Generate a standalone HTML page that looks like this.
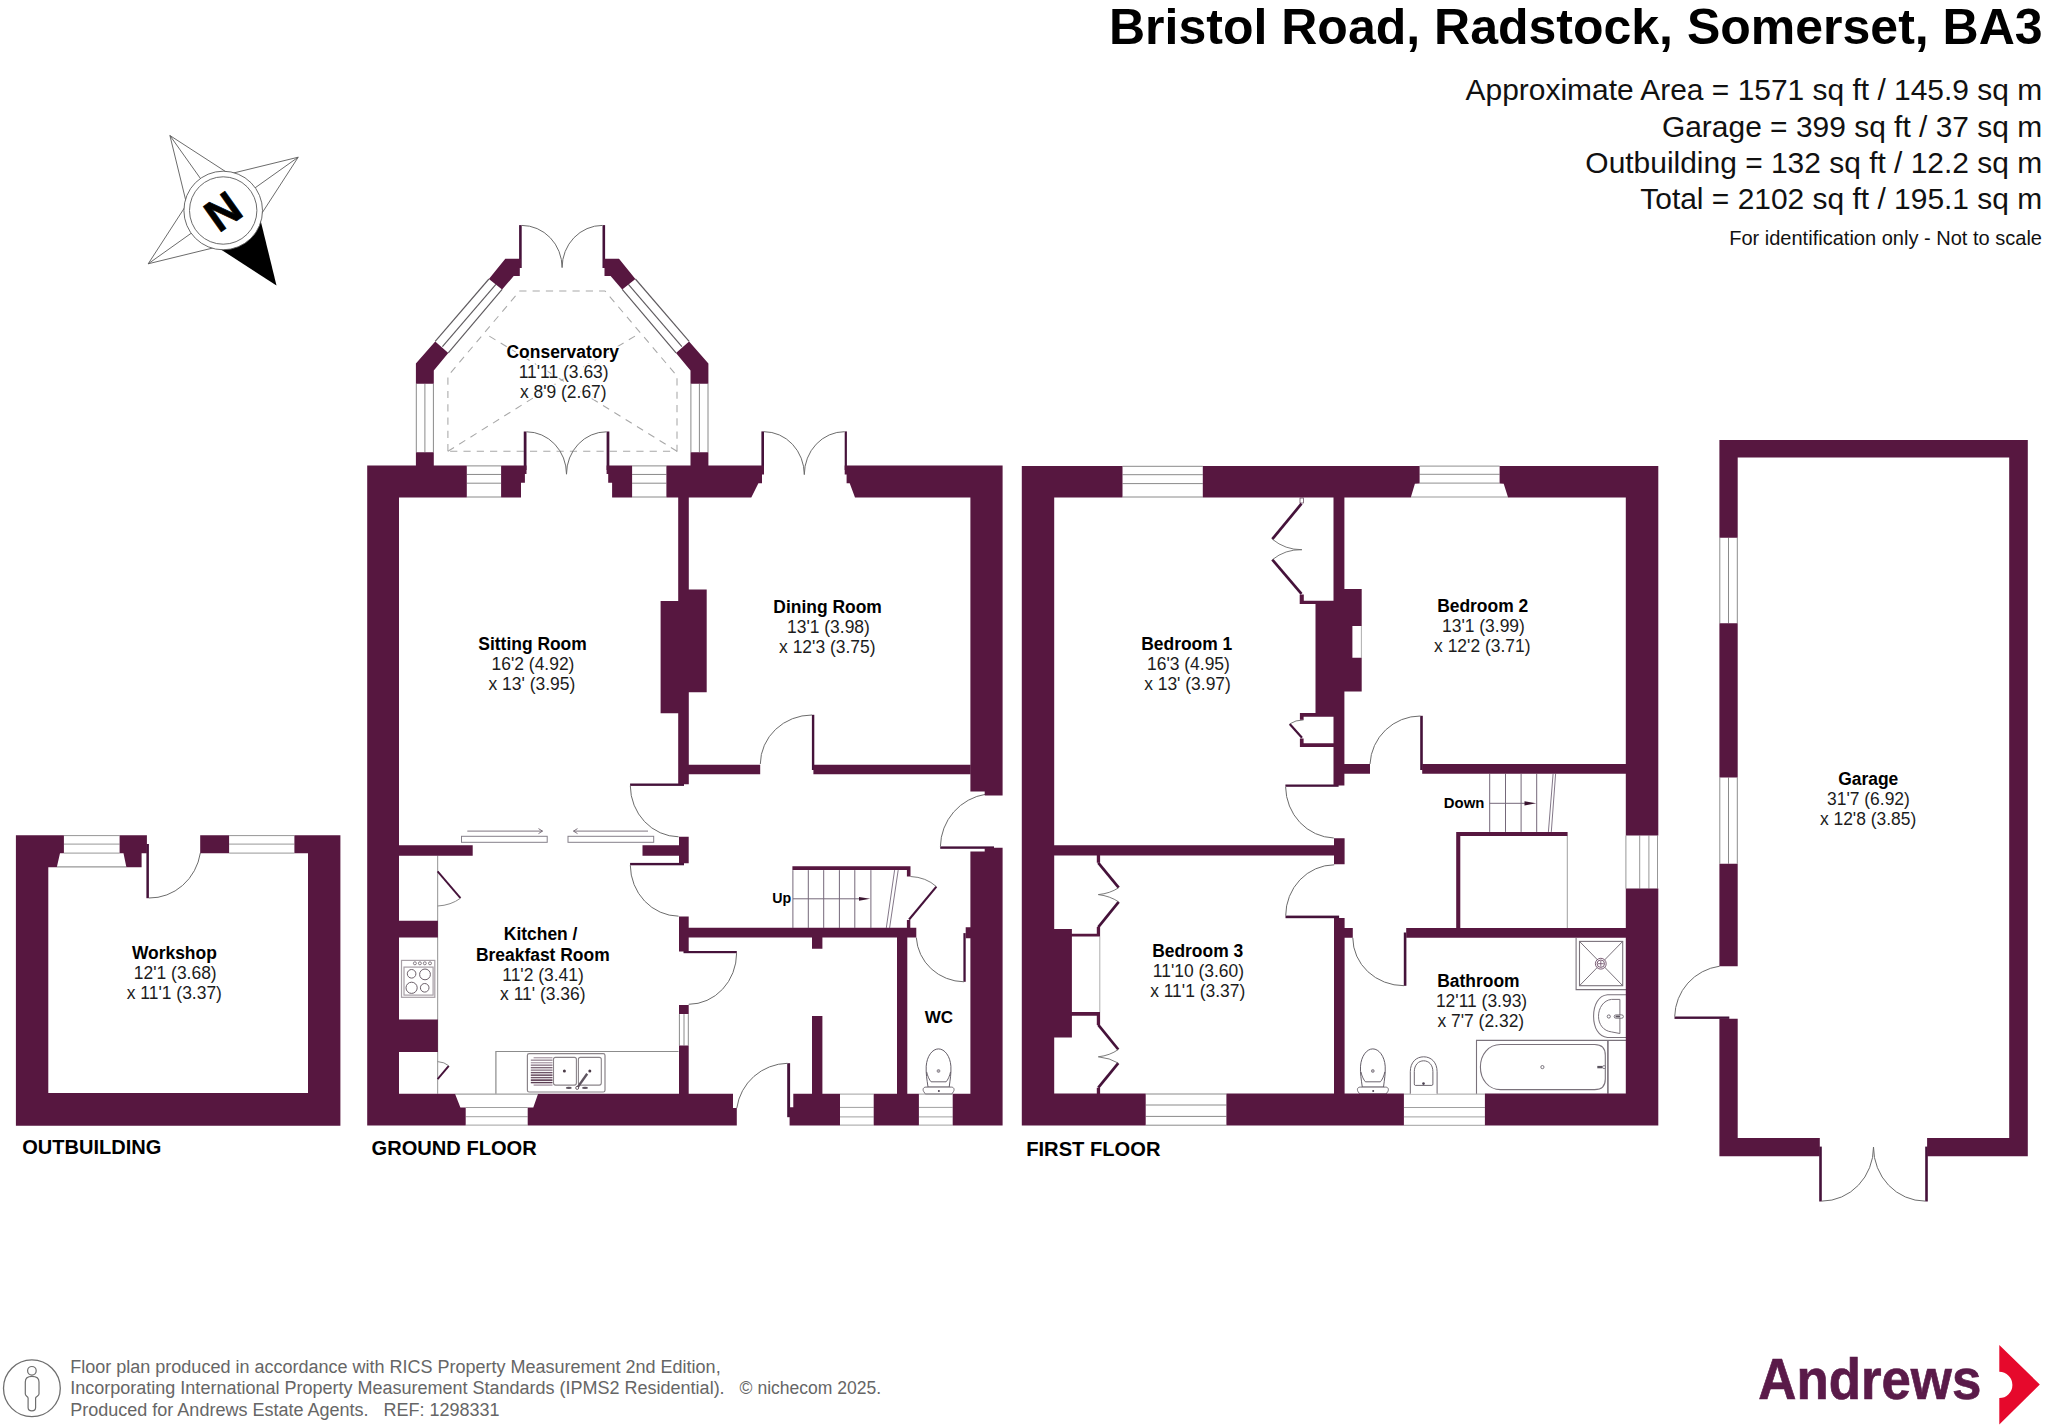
<!DOCTYPE html>
<html lang="en"><head><meta charset="utf-8"><title>Bristol Road, Radstock, Somerset, BA3 - Floor plan</title>
<style>
html,body{margin:0;padding:0;background:#fff}
body{width:2048px;height:1427px;overflow:hidden}
svg{display:block;font-family:"Liberation Sans",Arial,Helvetica,sans-serif}
</style></head><body>
<svg width="2048" height="1427" viewBox="0 0 2048 1427">
<rect width="2048" height="1427" fill="#fff"/>
<text x="2042.6" y="43.7" font-size="50" font-weight="bold" text-anchor="end" fill="#000">Bristol Road, Radstock, Somerset, BA3</text>
<text x="2042.2" y="100.1" font-size="29.94" text-anchor="end" fill="#111">Approximate Area = 1571 sq ft / 145.9 sq m</text>
<text x="2042.2" y="136.5" font-size="29.94" text-anchor="end" fill="#111">Garage = 399 sq ft / 37 sq m</text>
<text x="2042.2" y="172.9" font-size="29.94" text-anchor="end" fill="#111">Outbuilding = 132 sq ft / 12.2 sq m</text>
<text x="2042.2" y="209.3" font-size="29.94" text-anchor="end" fill="#111">Total = 2102 sq ft / 195.1 sq m</text>
<text x="2042" y="244.6" font-size="20.05" text-anchor="end" fill="#111">For identification only - Not to scale</text>
<polygon points="276.49,285.49 217.03,246.98 223.2,210.5 259.68,216.67" fill="#000"/>
<path d="M217.03 246.98L148.21 263.79L186.72 204.33M148.21 263.79L223.2 210.5" stroke="#5a5a5a" stroke-width="0.9" fill="none"/>
<path d="M186.72 204.33L169.91 135.51L229.37 174.02M169.91 135.51L223.2 210.5" stroke="#5a5a5a" stroke-width="0.9" fill="none"/>
<path d="M229.37 174.02L298.19 157.21L259.68 216.67M298.19 157.21L223.2 210.5" stroke="#5a5a5a" stroke-width="0.9" fill="none"/>
<circle cx="223.2" cy="210.5" r="39.3" fill="#fff" stroke="#5a5a5a" stroke-width="0.9"/>
<circle cx="223.2" cy="210.5" r="33.7" fill="#fff" stroke="#5a5a5a" stroke-width="0.9"/>
<text x="0" y="0" font-size="45" font-weight="bold" text-anchor="middle" fill="#000" stroke="#000" stroke-width="0.7" transform="translate(223.2 210.5) rotate(-35.4) translate(-0.8 16.1)">N</text>
<rect x="63.9" y="835.6" width="55.7" height="17.5" fill="#fff"/>
<line x1="63.9" y1="835.6" x2="119.6" y2="835.6" stroke="#979797" stroke-width="1"/>
<line x1="63.9" y1="844.1" x2="119.6" y2="844.1" stroke="#979797" stroke-width="1"/>
<line x1="63.9" y1="853.1" x2="119.6" y2="853.1" stroke="#979797" stroke-width="1"/>
<line x1="56.8" y1="866.9" x2="126.4" y2="866.9" stroke="#979797" stroke-width="1.1"/>
<rect x="229.1" y="835.6" width="65.3" height="17.5" fill="#fff"/>
<line x1="229.1" y1="835.6" x2="294.4" y2="835.6" stroke="#979797" stroke-width="1"/>
<line x1="229.1" y1="844.1" x2="294.4" y2="844.1" stroke="#979797" stroke-width="1"/>
<line x1="229.1" y1="853.1" x2="294.4" y2="853.1" stroke="#979797" stroke-width="1"/>
<rect x="146.4" y="844" width="2.5" height="54.2" fill="#45123a"/>
<path d="M148.9 898A51.5 54 0 0 0 200.4 852.8" stroke="#6c6c6c" stroke-width="1" fill="none"/>
<text x="22.2" y="1154" font-size="20.05" font-weight="bold" text-anchor="start" fill="#000">OUTBUILDING</text>
<path d="M447.9 451.3L447.9 376L519.8 290.9L604.9 290.9L677 376L677 451.3Z" stroke="#a8a8a8" stroke-width="1.05" fill="none" stroke-dasharray="7.2 6.1"/>
<path d="M447.9 451.3L561.8 380M677 451.3L561.8 380M489.3 336.1L561.8 380M635 336.1L561.8 380" stroke="#a8a8a8" stroke-width="1.05" fill="none" stroke-dasharray="7.2 6.1"/>
<line x1="435.2" y1="341.4" x2="488.9" y2="279" stroke="#5e5a5e" stroke-width="1.15"/>
<line x1="442.4" y1="346.6" x2="495.9" y2="284.3" stroke="#5e5a5e" stroke-width="1.15"/>
<line x1="448.3" y1="352.9" x2="502.1" y2="289.4" stroke="#5e5a5e" stroke-width="1.15"/>
<line x1="689.1" y1="341.4" x2="635.4" y2="279" stroke="#5e5a5e" stroke-width="1.15"/>
<line x1="681.9" y1="346.6" x2="628.4" y2="284.3" stroke="#5e5a5e" stroke-width="1.15"/>
<line x1="676" y1="352.9" x2="622.2" y2="289.4" stroke="#5e5a5e" stroke-width="1.15"/>
<rect x="416.3" y="383.8" width="17.1" height="68.4" fill="#fff"/>
<line x1="416.3" y1="383.8" x2="416.3" y2="452.2" stroke="#8a8a8a" stroke-width="1"/>
<line x1="424.9" y1="383.8" x2="424.9" y2="452.2" stroke="#8a8a8a" stroke-width="1"/>
<line x1="433.4" y1="383.8" x2="433.4" y2="452.2" stroke="#8a8a8a" stroke-width="1"/>
<rect x="690.9" y="383.8" width="17.1" height="68.4" fill="#fff"/>
<line x1="690.9" y1="383.8" x2="690.9" y2="452.2" stroke="#8a8a8a" stroke-width="1"/>
<line x1="699.4" y1="383.8" x2="699.4" y2="452.2" stroke="#8a8a8a" stroke-width="1"/>
<line x1="708" y1="383.8" x2="708" y2="452.2" stroke="#8a8a8a" stroke-width="1"/>
<rect x="519.1" y="225.1" width="2.6" height="42.9" fill="#45123a"/>
<rect x="602.5" y="225.1" width="2.6" height="42.9" fill="#45123a"/>
<path d="M521.7 225.4A40.4 42.2 0 0 1 562.1 267.6" stroke="#6c6c6c" stroke-width="1" fill="none"/>
<path d="M602.5 225.4A40.4 42.2 0 0 0 562.1 267.6" stroke="#6c6c6c" stroke-width="1" fill="none"/>
<rect x="466.8" y="465.9" width="34.3" height="31.1" fill="#fff"/>
<line x1="466.8" y1="465.9" x2="501.1" y2="465.9" stroke="#8a8a8a" stroke-width="1"/>
<line x1="466.8" y1="474.45" x2="501.1" y2="474.45" stroke="#8a8a8a" stroke-width="1"/>
<line x1="466.8" y1="483.2" x2="501.1" y2="483.2" stroke="#8a8a8a" stroke-width="1"/>
<line x1="466.8" y1="497" x2="501.1" y2="497" stroke="#8a8a8a" stroke-width="1"/>
<rect x="632.1" y="465.9" width="34.3" height="31.1" fill="#fff"/>
<line x1="632.1" y1="465.9" x2="666.4" y2="465.9" stroke="#8a8a8a" stroke-width="1"/>
<line x1="632.1" y1="474.45" x2="666.4" y2="474.45" stroke="#8a8a8a" stroke-width="1"/>
<line x1="632.1" y1="483.2" x2="666.4" y2="483.2" stroke="#8a8a8a" stroke-width="1"/>
<line x1="632.1" y1="497" x2="666.4" y2="497" stroke="#8a8a8a" stroke-width="1"/>
<rect x="523.75" y="431.5" width="2.75" height="38.5" fill="#45123a"/>
<rect x="606.6" y="431.5" width="2.75" height="38.5" fill="#45123a"/>
<path d="M526.5 431.8A40 42.4 0 0 1 566.5 474.2" stroke="#6c6c6c" stroke-width="1" fill="none"/>
<path d="M606.6 431.8A40 42.4 0 0 0 566.5 474.2" stroke="#6c6c6c" stroke-width="1" fill="none"/>
<rect x="761.4" y="431.4" width="2.6" height="38.6" fill="#45123a"/>
<rect x="844.7" y="431.4" width="2.2" height="38.6" fill="#45123a"/>
<path d="M764 431.7A40.3 43 0 0 1 804.3 474.6" stroke="#6c6c6c" stroke-width="1" fill="none"/>
<path d="M844.7 431.7A40.3 43 0 0 0 804.3 474.6" stroke="#6c6c6c" stroke-width="1" fill="none"/>
<rect x="465.7" y="1107.5" width="62" height="17.6" fill="#fff"/>
<line x1="465.7" y1="1107.5" x2="527.7" y2="1107.5" stroke="#a0a0a0" stroke-width="1"/>
<line x1="465.7" y1="1116.7" x2="527.7" y2="1116.7" stroke="#a0a0a0" stroke-width="1"/>
<line x1="465.7" y1="1125.1" x2="527.7" y2="1125.1" stroke="#a0a0a0" stroke-width="1"/>
<line x1="455" y1="1094.1" x2="538.1" y2="1094.1" stroke="#a0a0a0" stroke-width="1.2"/>
<rect x="840" y="1094.1" width="33.7" height="31" fill="#fff"/>
<line x1="840" y1="1094.1" x2="873.7" y2="1094.1" stroke="#a0a0a0" stroke-width="1"/>
<line x1="840" y1="1107.4" x2="873.7" y2="1107.4" stroke="#a0a0a0" stroke-width="1"/>
<line x1="840" y1="1116.9" x2="873.7" y2="1116.9" stroke="#a0a0a0" stroke-width="1"/>
<line x1="840" y1="1125.1" x2="873.7" y2="1125.1" stroke="#a0a0a0" stroke-width="1"/>
<rect x="918.9" y="1094.1" width="33.8" height="31" fill="#fff"/>
<line x1="918.9" y1="1094.1" x2="952.7" y2="1094.1" stroke="#a0a0a0" stroke-width="1"/>
<line x1="918.9" y1="1107.4" x2="952.7" y2="1107.4" stroke="#a0a0a0" stroke-width="1"/>
<line x1="918.9" y1="1116.9" x2="952.7" y2="1116.9" stroke="#a0a0a0" stroke-width="1"/>
<line x1="918.9" y1="1125.1" x2="952.7" y2="1125.1" stroke="#a0a0a0" stroke-width="1"/>
<rect x="679.4" y="1014.1" width="8.9" height="31.4" fill="#fff"/>
<line x1="679.4" y1="1014.1" x2="679.4" y2="1045.5" stroke="#8a8a8a" stroke-width="1"/>
<line x1="684" y1="1014.1" x2="684" y2="1045.5" stroke="#8a8a8a" stroke-width="1"/>
<line x1="688.3" y1="1014.1" x2="688.3" y2="1045.5" stroke="#8a8a8a" stroke-width="1"/>
<line x1="792.9" y1="870.1" x2="792.9" y2="927.9" stroke="#75687a" stroke-width="1"/>
<line x1="808.3" y1="870.1" x2="808.3" y2="927.9" stroke="#75687a" stroke-width="1"/>
<line x1="823.7" y1="870.1" x2="823.7" y2="927.9" stroke="#75687a" stroke-width="1"/>
<line x1="839.4" y1="870.1" x2="839.4" y2="927.9" stroke="#75687a" stroke-width="1"/>
<line x1="854.8" y1="870.1" x2="854.8" y2="927.9" stroke="#75687a" stroke-width="1"/>
<line x1="870.9" y1="870.1" x2="870.9" y2="927.9" stroke="#75687a" stroke-width="1"/>
<line x1="898.2" y1="870.1" x2="889.6" y2="927.9" stroke="#75687a" stroke-width="0.9"/>
<line x1="894.6" y1="870.1" x2="886.3" y2="927.9" stroke="#75687a" stroke-width="0.9"/>
<line x1="793" y1="898.8" x2="862" y2="898.8" stroke="#75687a" stroke-width="1"/>
<path d="M909.1 919.5L936.4 886.6" stroke="#45123a" stroke-width="2.1" fill="none"/>
<path d="M936.4 886.6Q926 877.2 910.5 876.5" stroke="#6c6c6c" stroke-width="0.9" fill="none"/>
<line x1="437.6" y1="855.5" x2="437.6" y2="1093.7" stroke="#a5a5a5" stroke-width="1.2"/>
<path d="M437.6 871.3L460.5 898.2" stroke="#45123a" stroke-width="1.9" fill="none"/>
<path d="M460.5 898.2Q451 905.3 437.6 906" stroke="#8a8a8a" stroke-width="1" fill="none"/>
<path d="M437.6 1079.2L448.8 1065.8" stroke="#45123a" stroke-width="1.9" fill="none"/>
<path d="M448.8 1065.8Q444.5 1062 437.6 1061.6" stroke="#8a8a8a" stroke-width="1" fill="none"/>
<rect x="401.5" y="960.4" width="33.3" height="36.9" fill="#fff" stroke="#a79fa6" stroke-width="1.2"/>
<rect x="404" y="967.1" width="29.1" height="28" fill="none" stroke="#a79fa6" stroke-width="1.2"/>
<circle cx="411.6" cy="973.8" r="4.3" fill="none" stroke="#6b5f69" stroke-width="1"/>
<circle cx="425" cy="974.4" r="5.4" fill="none" stroke="#6b5f69" stroke-width="1"/>
<circle cx="411.6" cy="987.8" r="5.6" fill="none" stroke="#6b5f69" stroke-width="1"/>
<circle cx="424.7" cy="987.8" r="4.3" fill="none" stroke="#6b5f69" stroke-width="1"/>
<circle cx="414.9" cy="963.3" r="1.5" fill="none" stroke="#6b5f69" stroke-width="0.8"/>
<circle cx="419.9" cy="963.3" r="1.5" fill="none" stroke="#6b5f69" stroke-width="0.8"/>
<circle cx="424.8" cy="963.3" r="1.5" fill="none" stroke="#6b5f69" stroke-width="0.8"/>
<circle cx="430" cy="963.3" r="1.5" fill="none" stroke="#6b5f69" stroke-width="0.8"/>
<rect x="461.5" y="836.3" width="85.7" height="6" fill="#fff" stroke="#85808a" stroke-width="1"/>
<rect x="568" y="836.3" width="85.7" height="6" fill="#fff" stroke="#85808a" stroke-width="1"/>
<path d="M467.3 831.1L542.5 831.1M538.5 828.6L542.5 831.1L538.5 833.6" stroke="#6f6470" stroke-width="0.9" fill="none"/>
<path d="M648 831.1L573.5 831.1M577.5 828.6L573.5 831.1L577.5 833.6" stroke="#6f6470" stroke-width="0.9" fill="none"/>
<path d="M495.9 1093.7L495.9 1051.5L678.5 1051.5" stroke="#8c8c8c" stroke-width="1.2" fill="none"/>
<rect x="527.4" y="1053.7" width="77.6" height="38.3" rx="1.8" fill="#fff" stroke="#8a8489" stroke-width="1.2"/>
<rect x="553.5" y="1057.4" width="22.9" height="27.7" rx="2" fill="none" stroke="#8a8489" stroke-width="1.1"/>
<rect x="578.4" y="1057.4" width="22.9" height="27.7" rx="2" fill="none" stroke="#8a8489" stroke-width="1.1"/>
<line x1="533.6" y1="1057.7" x2="552.5" y2="1057.7" stroke="#b4a6b1" stroke-width="1.4"/>
<line x1="530.8" y1="1060.19" x2="552.5" y2="1060.19" stroke="#9d8d9a" stroke-width="1.4"/>
<line x1="530.8" y1="1062.68" x2="552.5" y2="1062.68" stroke="#b4a6b1" stroke-width="1.4"/>
<line x1="530.8" y1="1065.17" x2="552.5" y2="1065.17" stroke="#8e7b8a" stroke-width="1.4"/>
<line x1="530.8" y1="1067.66" x2="552.5" y2="1067.66" stroke="#7e6879" stroke-width="1.4"/>
<line x1="530.8" y1="1070.15" x2="552.5" y2="1070.15" stroke="#917e8d" stroke-width="1.4"/>
<line x1="530.8" y1="1072.64" x2="552.5" y2="1072.64" stroke="#6f5569" stroke-width="1.4"/>
<line x1="530.8" y1="1075.13" x2="552.5" y2="1075.13" stroke="#5a3c52" stroke-width="1.4"/>
<line x1="530.8" y1="1077.62" x2="552.5" y2="1077.62" stroke="#6f5569" stroke-width="1.4"/>
<line x1="530.8" y1="1080.11" x2="552.5" y2="1080.11" stroke="#45213b" stroke-width="1.4"/>
<line x1="530.8" y1="1082.6" x2="552.5" y2="1082.6" stroke="#5a3c52" stroke-width="1.4"/>
<line x1="533.6" y1="1085.09" x2="552.5" y2="1085.09" stroke="#a898a5" stroke-width="1.4"/>
<circle cx="564.4" cy="1071.1" r="1.5" fill="#4a3a46"/><circle cx="589.8" cy="1071.1" r="1.5" fill="#4a3a46"/>
<path d="M577.4 1087.6L587.2 1073.7" stroke="#5f5560" stroke-width="2.4" fill="none"/>
<circle cx="577.2" cy="1087.9" r="1.5" fill="#fff" stroke="#4a3a46" stroke-width="0.8"/>
<ellipse cx="568.8" cy="1087.9" rx="3" ry="1.1" fill="#5f5560"/><ellipse cx="585" cy="1087.9" rx="3" ry="1.1" fill="#5f5560"/>
<rect x="630.1" y="783.5" width="53.9" height="2.4" fill="#45123a"/>
<path d="M630.3 785.8A49 51.5 0 0 0 678.6 836.8" stroke="#6c6c6c" stroke-width="1" fill="none"/>
<rect x="630.1" y="862.9" width="53.9" height="2.4" fill="#45123a"/>
<path d="M630.3 865.2A49 51.5 0 0 0 678.6 916.2" stroke="#6c6c6c" stroke-width="1" fill="none"/>
<rect x="683.5" y="951" width="53.3" height="2.2" fill="#45123a"/>
<path d="M736.6 953.1A48 51.3 0 0 1 688.7 1004.3" stroke="#6c6c6c" stroke-width="1" fill="none"/>
<rect x="811.9" y="714.8" width="2.4" height="55.2" fill="#45123a"/>
<path d="M812 715A51.8 49.5 0 0 0 760.3 764" stroke="#6c6c6c" stroke-width="1" fill="none"/>
<rect x="940.2" y="846.4" width="53.8" height="2.4" fill="#45123a"/>
<path d="M940.4 846.6A53.8 53.8 0 0 1 986 794.2" stroke="#6c6c6c" stroke-width="1" fill="none"/>
<rect x="963.4" y="933.1" width="2.3" height="48.7" fill="#45123a"/>
<path d="M964 981.8A48.5 47 0 0 1 916.3 937.6" stroke="#6c6c6c" stroke-width="1" fill="none"/>
<rect x="787.2" y="1063.2" width="2.9" height="54" fill="#45123a"/>
<path d="M787.4 1063.3A52.3 52.3 0 0 0 736.8 1108" stroke="#6c6c6c" stroke-width="1" fill="none"/>
<g transform="translate(938.5 1093.7) scale(1)" fill="#fff" stroke="#5c5560" stroke-width="0.95"><path d="M-10.5 -6.6C-11.5 -14 -12.7 -20 -12.3 -27.5C-11.6 -37.5 -6.2 -44.8 0 -44.8C6.2 -44.8 11.7 -37.5 12.4 -27.5C12.8 -20 11.6 -14 10.7 -6.6Z"/><path d="M-11.9 -22C-11 -17.5 -9 -13.6 -7.4 -11.9L7.6 -11.9C9.2 -13.6 11.2 -17.5 12.1 -22" fill="none" stroke-width="0.9"/><path d="M-12.6 -6.6L12.8 -6.6C16 -6.6 16.2 -3.4 14.6 -1.6L13.4 0.2L-13.2 0.2L-14.4 -1.6C-16 -3.4 -15.8 -6.6 -12.6 -6.6Z" stroke="#6d666f"/><circle cx="0" cy="-22.7" r="1.45" fill="#b5b0b5" stroke="#77707a" stroke-width="0.7"/><circle cx="0.4" cy="-2.8" r="1" fill="#4a4050" stroke="none"/></g>
<text x="781.7" y="903.3" font-size="14.2" font-weight="bold" text-anchor="middle" fill="#000">Up</text>
<text x="939" y="1022.6" font-size="17" font-weight="bold" text-anchor="middle" fill="#000">WC</text>
<text x="371.5" y="1155.1" font-size="20.1" font-weight="bold" text-anchor="start" fill="#000">GROUND FLOOR</text>
<rect x="1122.5" y="466.3" width="80.3" height="30.7" fill="#fff"/>
<line x1="1122.5" y1="466.3" x2="1202.8" y2="466.3" stroke="#8a8a8a" stroke-width="1"/>
<line x1="1122.5" y1="474.7" x2="1202.8" y2="474.7" stroke="#8a8a8a" stroke-width="1"/>
<line x1="1122.5" y1="483.6" x2="1202.8" y2="483.6" stroke="#8a8a8a" stroke-width="1"/>
<line x1="1122.5" y1="497" x2="1202.8" y2="497" stroke="#8a8a8a" stroke-width="1"/>
<rect x="1419.6" y="466.1" width="80" height="17" fill="#fff"/>
<line x1="1419.6" y1="466.1" x2="1499.6" y2="466.1" stroke="#8f8f8f" stroke-width="1"/>
<line x1="1419.6" y1="474.3" x2="1499.6" y2="474.3" stroke="#8f8f8f" stroke-width="1"/>
<line x1="1419.6" y1="483.1" x2="1499.6" y2="483.1" stroke="#8f8f8f" stroke-width="1"/>
<line x1="1410.8" y1="497" x2="1508.1" y2="497" stroke="#9a9a9a" stroke-width="1.1"/>
<rect x="1625.9" y="835.5" width="31.6" height="53.1" fill="#fff"/>
<line x1="1625.9" y1="835.5" x2="1625.9" y2="888.6" stroke="#979797" stroke-width="1"/>
<line x1="1639.7" y1="835.5" x2="1639.7" y2="888.6" stroke="#979797" stroke-width="1"/>
<line x1="1648.9" y1="835.5" x2="1648.9" y2="888.6" stroke="#979797" stroke-width="1"/>
<line x1="1657.5" y1="835.5" x2="1657.5" y2="888.6" stroke="#979797" stroke-width="1"/>
<rect x="1145.7" y="1094" width="80.7" height="31.2" fill="#fff"/>
<line x1="1145.7" y1="1094" x2="1226.4" y2="1094" stroke="#8a8a8a" stroke-width="1"/>
<line x1="1145.7" y1="1105" x2="1226.4" y2="1105" stroke="#8a8a8a" stroke-width="1"/>
<line x1="1145.7" y1="1116.4" x2="1226.4" y2="1116.4" stroke="#8a8a8a" stroke-width="1"/>
<line x1="1145.7" y1="1125.2" x2="1226.4" y2="1125.2" stroke="#8a8a8a" stroke-width="1"/>
<rect x="1403.9" y="1094.1" width="81" height="31.2" fill="#fff"/>
<line x1="1403.9" y1="1094.1" x2="1484.9" y2="1094.1" stroke="#a0a0a0" stroke-width="1"/>
<line x1="1403.9" y1="1107.5" x2="1484.9" y2="1107.5" stroke="#a0a0a0" stroke-width="1"/>
<line x1="1403.9" y1="1116.9" x2="1484.9" y2="1116.9" stroke="#a0a0a0" stroke-width="1"/>
<line x1="1403.9" y1="1125.3" x2="1484.9" y2="1125.3" stroke="#a0a0a0" stroke-width="1"/>
<line x1="1361.4" y1="626" x2="1361.4" y2="657.8" stroke="#999" stroke-width="0.8"/>
<rect x="1300" y="498" width="3.6" height="5" fill="#fff" stroke="#5a3a50" stroke-width="0.7"/>
<path d="M1301.5 503.7L1272.3 539.2" stroke="#45123a" stroke-width="2.7" fill="none"/>
<path d="M1301.5 593.9L1272.3 559.7" stroke="#45123a" stroke-width="2.7" fill="none"/>
<path d="M1272.3 539.2A46 46 0 0 0 1301.9 549.7" stroke="#6c6c6c" stroke-width="0.9" fill="none"/>
<path d="M1272.3 559.7A45 45 0 0 1 1301.9 549.7" stroke="#6c6c6c" stroke-width="0.9" fill="none"/>
<path d="M1302 737.8L1289.7 723.9" stroke="#45123a" stroke-width="2.2" fill="none"/>
<path d="M1289.7 723.9Q1295.5 720 1303.6 719.9" stroke="#6c6c6c" stroke-width="0.9" fill="none"/>
<line x1="1567.3" y1="835.9" x2="1567.3" y2="928.3" stroke="#888" stroke-width="0.8"/>
<line x1="1099.8" y1="936.5" x2="1099.8" y2="1012.1" stroke="#999" stroke-width="0.8"/>
<path d="M1098.3 862.8L1118.7 887.7" stroke="#45123a" stroke-width="2.7" fill="none"/>
<path d="M1098.3 927.1L1118.7 901.9" stroke="#45123a" stroke-width="2.7" fill="none"/>
<path d="M1118.7 887.7Q1110 893.5 1098.3 894.6Q1110 896 1118.7 901.9" stroke="#6c6c6c" stroke-width="0.9" fill="none"/>
<path d="M1098.3 1024.9L1118.3 1049.5" stroke="#45123a" stroke-width="2.7" fill="none"/>
<path d="M1098.3 1087.7L1118.3 1063.1" stroke="#45123a" stroke-width="2.7" fill="none"/>
<path d="M1118.3 1049.5Q1110 1055.5 1098.3 1056.8Q1110 1058 1118.3 1063.1" stroke="#6c6c6c" stroke-width="0.9" fill="none"/>
<line x1="1489.7" y1="773.8" x2="1489.7" y2="831.9" stroke="#75687a" stroke-width="1"/>
<line x1="1505.5" y1="773.8" x2="1505.5" y2="831.9" stroke="#75687a" stroke-width="1"/>
<line x1="1521.1" y1="773.8" x2="1521.1" y2="831.9" stroke="#75687a" stroke-width="1"/>
<line x1="1536.7" y1="773.8" x2="1536.7" y2="831.9" stroke="#75687a" stroke-width="1"/>
<line x1="1555.6" y1="773.8" x2="1551.3" y2="831.9" stroke="#75687a" stroke-width="0.9"/>
<line x1="1553.1" y1="773.8" x2="1548.4" y2="831.9" stroke="#75687a" stroke-width="0.9"/>
<line x1="1489.5" y1="803.3" x2="1527" y2="803.3" stroke="#75687a" stroke-width="1"/>
<rect x="1285.4" y="784.5" width="53.2" height="2.3" fill="#45123a"/>
<path d="M1285.6 786.8A50 52 0 0 0 1333.8 838" stroke="#6c6c6c" stroke-width="1" fill="none"/>
<rect x="1420.2" y="715.8" width="2.6" height="54.2" fill="#45123a"/>
<path d="M1420.4 716A50.5 50.5 0 0 0 1370 764" stroke="#6c6c6c" stroke-width="1" fill="none"/>
<rect x="1285.5" y="915.6" width="53.6" height="2.6" fill="#45123a"/>
<path d="M1285.7 915.7A49 51 0 0 1 1334.2 864.8" stroke="#6c6c6c" stroke-width="1" fill="none"/>
<rect x="1403.8" y="932.5" width="2.6" height="53.3" fill="#45123a"/>
<path d="M1404 985.7A51.2 48 0 0 1 1352.8 937.8" stroke="#6c6c6c" stroke-width="1" fill="none"/>
<path d="M1626 989.6L1576.1 989.6L1576.1 937.9" stroke="#7a727b" stroke-width="1.1" fill="none"/>
<rect x="1579.5" y="941.4" width="43.2" height="44.3" fill="#fff" stroke="#7a727b" stroke-width="1.1"/>
<path d="M1579.5 941.4L1622.7 985.7M1622.7 941.4L1579.5 985.7" stroke="#7a727b" stroke-width="1" fill="none"/>
<circle cx="1600.8" cy="963.7" r="5.4" fill="#fff" stroke="#6a4a64" stroke-width="0.9"/>
<circle cx="1600.8" cy="963.7" r="3.7" fill="#fff" stroke="#6a4a64" stroke-width="0.9"/>
<path d="M1597.8 963.7L1603.8 963.7M1600.8 960.7L1600.8 966.7" stroke="#6a4a64" stroke-width="0.8" fill="none"/>
<path d="M1626 994.8L1607.5 994.8C1598.5 995.5 1593.6 1005 1593.6 1016.2C1593.6 1027.5 1598.5 1036.8 1607.5 1037.5L1626 1037.5" stroke="#7a727b" stroke-width="1.05" fill="#fff"/>
<path d="M1619.9 999.4L1611.5 999.4C1603.5 1000.2 1598.5 1008 1598.5 1016.2C1598.5 1024.5 1603.5 1031 1611.5 1031.9L1619.9 1033.5Z" stroke="#7a727b" stroke-width="1" fill="none"/>
<circle cx="1608.8" cy="1016.5" r="1.6" fill="#fff" stroke="#5c5560" stroke-width="0.8"/>
<rect x="1614.2" y="1014.9" width="9.2" height="3.3" rx="1.6" fill="#fff" stroke="#5c5560" stroke-width="0.8"/>
<path d="M1615.5 1016.5L1620.2 1016.5" stroke="#5c5560" stroke-width="1.8" fill="none"/>
<path d="M1476.5 1093.7L1476.5 1040.4L1626 1040.4" stroke="#7a727b" stroke-width="1.1" fill="none"/>
<path d="M1607.9 1040.4L1607.9 1093.7" stroke="#7a727b" stroke-width="1.6" fill="none"/>
<path d="M1500.5 1044.5L1594.6 1044.5Q1605.3 1044.5 1605.3 1055.2L1605.3 1078.9Q1605.3 1089.6 1594.6 1089.6L1500.5 1089.6C1488.5 1089.6 1480.4 1079.5 1480.4 1067C1480.4 1054.5 1488.5 1044.5 1500.5 1044.5Z" stroke="#7a727b" stroke-width="1.1" fill="none"/>
<circle cx="1542.4" cy="1067.1" r="1.6" fill="#fff" stroke="#5c5560" stroke-width="0.8"/>
<path d="M1597.3 1067.1L1602.5 1067.1" stroke="#5c5560" stroke-width="2.4" fill="none"/>
<circle cx="1604" cy="1067.1" r="1.5" fill="#fff" stroke="#5c5560" stroke-width="0.7"/>
<g transform="translate(1372.8 1093.7) scale(1)" fill="#fff" stroke="#5c5560" stroke-width="0.95"><path d="M-10.5 -6.6C-11.5 -14 -12.7 -20 -12.3 -27.5C-11.6 -37.5 -6.2 -44.8 0 -44.8C6.2 -44.8 11.7 -37.5 12.4 -27.5C12.8 -20 11.6 -14 10.7 -6.6Z"/><path d="M-11.9 -22C-11 -17.5 -9 -13.6 -7.4 -11.9L7.6 -11.9C9.2 -13.6 11.2 -17.5 12.1 -22" fill="none" stroke-width="0.9"/><path d="M-12.6 -6.6L12.8 -6.6C16 -6.6 16.2 -3.4 14.6 -1.6L13.4 0.2L-13.2 0.2L-14.4 -1.6C-16 -3.4 -15.8 -6.6 -12.6 -6.6Z" stroke="#6d666f"/><circle cx="0" cy="-22.7" r="1.45" fill="#b5b0b5" stroke="#77707a" stroke-width="0.7"/><circle cx="0.4" cy="-2.8" r="1" fill="#4a4050" stroke="none"/></g>
<g transform="translate(1423.7 1093.7)" fill="#fff" stroke="#6d666f" stroke-width="1"><path d="M-13.4 0L-13.4 -22C-13.4 -31.5 -7.4 -36.9 0 -36.9C7.4 -36.9 13.4 -31.5 13.4 -22L13.4 0"/><path d="M-8.4 -8.3Q-9.4 -8.3 -9.4 -9.8L-9.4 -22C-9.4 -29 -5 -32.9 0 -32.9C5 -32.9 9.2 -29 9.2 -22L9.2 -9.8Q9.2 -8.3 8.2 -8.3Z" fill="none"/><circle cx="-0.2" cy="-10.1" r="1.3" fill="#4a4050" stroke="none"/></g>
<text x="1464.1" y="807.8" font-size="14.9" font-weight="bold" text-anchor="middle" fill="#000">Down</text>
<text x="1026.2" y="1156" font-size="20.15" font-weight="bold" text-anchor="start" fill="#000">FIRST FLOOR</text>
<rect x="1719.8" y="537.7" width="17.5" height="85.6" fill="#fff"/>
<line x1="1719.8" y1="537.7" x2="1719.8" y2="623.3" stroke="#8c8c8c" stroke-width="1"/>
<line x1="1728.5" y1="537.7" x2="1728.5" y2="623.3" stroke="#8c8c8c" stroke-width="1"/>
<line x1="1737.3" y1="537.7" x2="1737.3" y2="623.3" stroke="#8c8c8c" stroke-width="1"/>
<rect x="1719.8" y="777.5" width="17.5" height="86.2" fill="#fff"/>
<line x1="1719.8" y1="777.5" x2="1719.8" y2="863.7" stroke="#8c8c8c" stroke-width="1"/>
<line x1="1728.5" y1="777.5" x2="1728.5" y2="863.7" stroke="#8c8c8c" stroke-width="1"/>
<line x1="1737.3" y1="777.5" x2="1737.3" y2="863.7" stroke="#8c8c8c" stroke-width="1"/>
<rect x="1674.5" y="1016.5" width="54.8" height="2.4" fill="#45123a"/>
<path d="M1674.7 1016.6A52 52 0 0 1 1719.6 966.2" stroke="#6c6c6c" stroke-width="1" fill="none"/>
<rect x="1819.2" y="1146.6" width="2.6" height="54.9" fill="#45123a"/>
<rect x="1925.2" y="1146.6" width="2.6" height="54.9" fill="#45123a"/>
<path d="M1821.8 1201.1A51.7 54 0 0 0 1873.5 1147" stroke="#6c6c6c" stroke-width="1" fill="none"/>
<path d="M1925.2 1201.1A51.7 54 0 0 1 1873.5 1147" stroke="#6c6c6c" stroke-width="1" fill="none"/>
<circle cx="31.9" cy="1388.3" r="28.4" fill="none" stroke="#6e6e6e" stroke-width="1.3"/>
<circle cx="31.9" cy="1370.8" r="4.3" fill="none" stroke="#6e6e6e" stroke-width="1.2"/>
<path d="M25.3 1382C25.3 1378 28 1376.4 31.9 1376.4C36 1376.4 39 1378 39 1382L39 1394C39 1396 36 1396.2 35.6 1398L35.6 1407.5C35.6 1412 28.1 1412 28.1 1407.5L28.1 1398C27.8 1396.2 25.3 1396 25.3 1394Z" stroke="#6e6e6e" stroke-width="1.2" fill="none"/>
<text x="70.3" y="1372.5" font-size="18" text-anchor="start" fill="#666">Floor plan produced in accordance with RICS Property Measurement 2nd Edition,</text>
<text x="70.3" y="1394" font-size="18" text-anchor="start" fill="#666">Incorporating International Property Measurement Standards (IPMS2 Residential).</text>
<text x="739.6" y="1394" font-size="17.55" text-anchor="start" fill="#666">© nichecom 2025.</text>
<text x="70.3" y="1415.8" font-size="18" text-anchor="start" fill="#666" style="white-space:pre">Produced for Andrews Estate Agents.   REF: 1298331</text>
<text x="1758.3" y="1398.6" font-size="56.5" font-weight="bold" fill="#5a1a49" stroke="#5a1a49" stroke-width="0.7" textLength="223" lengthAdjust="spacingAndGlyphs">Andrews</text>
<path d="M1999.3 1345L2039.8 1384.5L1999.3 1424.6L1999.3 1398A13.1 13.1 0 0 0 1999.3 1371.8Z" stroke="none" stroke-width="0" fill="#e6092c"/>
<path d="M15.9 835.2L48.3 835.2L48.3 1125.8L15.9 1125.8ZM15.9 1092.9L340.4 1092.9L340.4 1125.8L15.9 1125.8ZM308 835.2L340.4 835.2L340.4 1125.8L308 1125.8ZM15.9 835.2L63.9 835.2L63.9 853.3L60 853.3L56.8 867.2L48.3 867.2L48.3 1125L15.9 1125ZM119.6 835.2L146.9 835.2L146.9 853.3L141.6 853.3L141.6 867.2L126.4 867.2L123.5 853.3L119.6 853.3ZM200.2 835.2L229.1 835.2L229.1 853.3L200.2 853.3ZM294.4 835.2L340.4 835.2L340.4 853.3L294.4 853.3ZM415.9 383.8L415.9 363.6L435.2 341.4L448.3 352.9L433.8 370.4L433.8 383.8ZM690.5 383.8L690.5 370.4L676 352.9L689.1 341.4L708.4 363.6L708.4 383.8ZM488.9 279L505.3 258.8L521 258.8L521 267.9L519.8 267.9L519.8 276.1L513.7 276.1L502.1 289.4ZM622.2 289.4L610.6 276.1L604.5 276.1L604.5 267.9L603.3 267.9L603.3 258.8L619 258.8L635.4 279ZM415.9 452.2L433.8 452.2L433.8 466L415.9 466ZM690.5 452.2L708.4 452.2L708.4 466L690.5 466ZM367.2 465.5L399 465.5L399 1125.4L367.2 1125.4ZM367.2 465.5L466.8 465.5L466.8 497.4L367.2 497.4ZM501.1 465.5L526.5 465.5L526.5 474.1L524.9 474.1L524.9 482.7L521 482.7L521 497.4L501.1 497.4ZM632.1 497.4L612.1 497.4L612.1 482.7L608.2 482.7L608.2 474.1L606.6 474.1L606.6 465.5L632.1 465.5ZM666.4 465.5L764 465.5L764 474.6L762 474.6L762 483.3L758.4 483.3L751.3 497.4L666.4 497.4ZM844.7 465.5L1002.6 465.5L1002.6 497.4L855 497.4L849.7 483.3L846.6 483.3L846.6 474.6L844.7 474.6ZM970.4 465.5L1002.6 465.5L1002.6 795.6L984.7 795.6L984.7 791.6L970.4 791.6ZM970.4 851.6L984.7 851.6L984.7 847.7L1002.6 847.7L1002.6 1125.4L970.4 1125.4ZM965.7 927.2L970.4 927.2L970.4 938.2L965.7 938.2ZM367.2 1093.7L455 1093.7L460.4 1107.5L465.7 1107.5L465.7 1125.4L367.2 1125.4ZM538.1 1093.7L733 1093.7L733 1108L736.8 1108L736.8 1125.4L527.7 1125.4L527.7 1107.5L533.3 1107.5ZM793.3 1093.7L840 1093.7L840 1125.4L789.6 1125.4L789.6 1107.3L793.3 1107.3ZM873.7 1093.7L918.9 1093.7L918.9 1125.4L873.7 1125.4ZM952.7 1093.7L1002.6 1093.7L1002.6 1125.4L952.7 1125.4ZM678.2 497.4L688.8 497.4L688.8 784.3L678.2 784.3ZM660.6 601L678.2 601L678.2 713.2L660.6 713.2ZM688.8 589.6L706.7 589.6L706.7 692.3L688.8 692.3ZM688.8 764.7L760.2 764.7L760.2 774.2L688.8 774.2ZM813.4 764.7L970.3 764.7L970.3 774.2L813.4 774.2ZM399 845.3L472.7 845.3L472.7 855.7L399 855.7ZM642.5 845.3L679.5 845.3L679.5 855.7L642.5 855.7ZM679 836.7L688.7 836.7L688.7 863.3L679 863.3ZM679 916.6L688.7 916.6L688.7 951.6L679 951.6ZM679 1004.9L688.7 1004.9L688.7 1014.1L679 1014.1ZM679 1045.5L688.7 1045.5L688.7 1093.7L679 1093.7ZM679 927.7L916.3 927.7L916.3 937.5L679 937.5ZM812 937.6L822.4 937.6L822.4 948.8L812 948.8ZM812 1016.1L822.4 1016.1L822.4 1093.7L812 1093.7ZM897 937.6L907.3 937.6L907.3 1093.7L897 1093.7ZM792.4 866.2L910.5 866.2L910.5 870.1L792.4 870.1ZM906.9 866.2L910.5 866.2L910.5 876.5L906.9 876.5ZM906.9 920L910.3 920L910.3 928L906.9 928ZM399 920.8L437.9 920.8L437.9 937.6L399 937.6ZM399 1019.6L437.9 1019.6L437.9 1052L399 1052ZM1021.8 465.9L1054.2 465.9L1054.2 1125.6L1021.8 1125.6ZM1021.8 465.9L1122.5 465.9L1122.5 497.4L1021.8 497.4ZM1202.8 465.9L1419.6 465.9L1419.6 483.4L1414.9 483.7L1410.8 497.4L1202.8 497.4ZM1499.6 465.9L1658.3 465.9L1658.3 497.4L1508.1 497.4L1503.7 483.7L1499.6 483.4ZM1625.8 465.9L1658.3 465.9L1658.3 835.5L1625.8 835.5ZM1625.8 888.6L1658.3 888.6L1658.3 1125.6L1625.8 1125.6ZM1021.8 1093.6L1145.7 1093.6L1145.7 1125.6L1021.8 1125.6ZM1226.4 1093.6L1403.9 1093.6L1403.9 1125.6L1226.4 1125.6ZM1484.9 1093.6L1658.3 1093.6L1658.3 1125.6L1484.9 1125.6ZM1333.5 497.4L1344.4 497.4L1344.4 785.5L1333.5 785.5ZM1315.5 604L1333.5 604L1333.5 715L1315.5 715ZM1344.4 589L1361.7 589L1361.7 626L1352.4 626L1352.4 657.8L1361.7 657.8L1361.7 691.5L1344.4 691.5ZM1299.7 594.4L1303.8 594.4L1303.8 604L1299.7 604ZM1299.7 600.8L1333.7 600.8L1333.7 604L1299.7 604ZM1299.9 713.1L1333.5 713.1L1333.5 716.8L1299.9 716.8ZM1299.9 713.1L1303.6 713.1L1303.6 719.7L1299.9 719.7ZM1299.9 743.2L1333.5 743.2L1333.5 746.9L1299.9 746.9ZM1299.9 738.6L1303.6 738.6L1303.6 746.9L1299.9 746.9ZM1344.4 764L1370 764L1370 773.8L1344.4 773.8ZM1422.2 764L1625.8 764L1625.8 773.8L1422.2 773.8ZM1054.2 845.3L1334.2 845.3L1334.2 855.4L1054.2 855.4ZM1334 838.3L1344.6 838.3L1344.6 864.3L1334 864.3ZM1334 918L1344.6 918L1344.6 1093.6L1334 1093.6ZM1344.6 927.9L1352.8 927.9L1352.8 937.8L1344.6 937.8ZM1406.2 928L1625.8 928L1625.8 937.8L1406.2 937.8ZM1456.2 831.9L1567.6 831.9L1567.6 835.9L1456.2 835.9ZM1456.2 831.9L1460.3 831.9L1460.3 928.3L1456.2 928.3ZM1054.2 928.9L1071.9 928.9L1071.9 1037.6L1054.2 1037.6ZM1096.8 855.4L1100.1 855.4L1100.1 862.8L1096.8 862.8ZM1096.8 927.1L1100.1 927.1L1100.1 936.5L1096.8 936.5ZM1071.9 933.8L1100.1 933.8L1100.1 936.5L1071.9 936.5ZM1071.9 1012.1L1100.1 1012.1L1100.1 1015.8L1071.9 1015.8ZM1096.8 1012.1L1100.1 1012.1L1100.1 1024.9L1096.8 1024.9ZM1096.8 1087.7L1100.1 1087.7L1100.1 1094L1096.8 1094ZM1719.4 440L2027.8 440L2027.8 457.6L1719.4 457.6ZM2009.2 440L2027.8 440L2027.8 1156.3L2009.2 1156.3ZM1719.4 440L1737.7 440L1737.7 537.7L1719.4 537.7ZM1719.4 623.3L1737.7 623.3L1737.7 777.5L1719.4 777.5ZM1719.4 863.7L1737.7 863.7L1737.7 966.2L1719.4 966.2ZM1719.4 1018.8L1737.7 1018.8L1737.7 1156.3L1719.4 1156.3ZM1719.4 1138L1819.8 1138L1819.8 1156.3L1719.4 1156.3ZM1927.1 1138L2027.8 1138L2027.8 1156.3L1927.1 1156.3Z" fill="#571740" fill-rule="nonzero"/>
<polygon points="859,896.9 870.2,898.8 859,900.7" fill="#3a1530"/>
<polygon points="1524.5,801.2 1536.2,803.3 1524.5,805.4" fill="#3a1530"/>
<text x="174.35" y="958.6" font-size="17.45" font-weight="bold" text-anchor="middle" fill="#000">Workshop</text>
<text x="175.25" y="978.7" font-size="17.45" text-anchor="middle" fill="#1c1c1c">12'1 (3.68)</text>
<text x="174.35" y="998.85" font-size="17.45" text-anchor="middle" fill="#1c1c1c">x 11'1 (3.37)</text>
<text x="562.75" y="358.3" font-size="17.45" font-weight="bold" text-anchor="middle" fill="#000" stroke="#fff" stroke-width="3" paint-order="stroke" stroke-linejoin="round">Conservatory</text>
<text x="563.65" y="377.85" font-size="17.45" text-anchor="middle" fill="#1c1c1c" stroke="#fff" stroke-width="3" paint-order="stroke" stroke-linejoin="round">11'11 (3.63)</text>
<text x="563.25" y="397.8" font-size="17.45" text-anchor="middle" fill="#1c1c1c" stroke="#fff" stroke-width="3" paint-order="stroke" stroke-linejoin="round">x 8'9 (2.67)</text>
<text x="532.55" y="650.2" font-size="17.45" font-weight="bold" text-anchor="middle" fill="#000">Sitting Room</text>
<text x="533" y="669.9" font-size="17.45" text-anchor="middle" fill="#1c1c1c">16'2 (4.92)</text>
<text x="531.85" y="689.7" font-size="17.45" text-anchor="middle" fill="#1c1c1c">x 13' (3.95)</text>
<text x="827.6" y="613.3" font-size="17.45" font-weight="bold" text-anchor="middle" fill="#000">Dining Room</text>
<text x="828.45" y="633.1" font-size="17.45" text-anchor="middle" fill="#1c1c1c">13'1 (3.98)</text>
<text x="827.3" y="653" font-size="17.45" text-anchor="middle" fill="#1c1c1c">x 12'3 (3.75)</text>
<text x="540.65" y="940.4" font-size="17.45" font-weight="bold" text-anchor="middle" fill="#000">Kitchen /</text>
<text x="542.8" y="960.65" font-size="17.45" font-weight="bold" text-anchor="middle" fill="#000">Breakfast Room</text>
<text x="543" y="980.65" font-size="17.45" text-anchor="middle" fill="#1c1c1c">11'2 (3.41)</text>
<text x="542.8" y="1000.4" font-size="17.45" text-anchor="middle" fill="#1c1c1c">x 11' (3.36)</text>
<text x="1186.75" y="650.05" font-size="17.45" font-weight="bold" text-anchor="middle" fill="#000">Bedroom 1</text>
<text x="1188.45" y="670.3" font-size="17.45" text-anchor="middle" fill="#1c1c1c">16'3 (4.95)</text>
<text x="1187.5" y="690.2" font-size="17.45" text-anchor="middle" fill="#1c1c1c">x 13' (3.97)</text>
<text x="1482.7" y="612.1" font-size="17.45" font-weight="bold" text-anchor="middle" fill="#000">Bedroom 2</text>
<text x="1483.45" y="631.9" font-size="17.45" text-anchor="middle" fill="#1c1c1c">13'1 (3.99)</text>
<text x="1482.3" y="651.8" font-size="17.45" text-anchor="middle" fill="#1c1c1c">x 12'2 (3.71)</text>
<text x="1197.7" y="957.1" font-size="17.45" font-weight="bold" text-anchor="middle" fill="#000">Bedroom 3</text>
<text x="1198.4" y="977.25" font-size="17.45" text-anchor="middle" fill="#1c1c1c">11'10 (3.60)</text>
<text x="1197.7" y="997.25" font-size="17.45" text-anchor="middle" fill="#1c1c1c">x 11'1 (3.37)</text>
<text x="1478.45" y="986.5" font-size="17.45" font-weight="bold" text-anchor="middle" fill="#000">Bathroom</text>
<text x="1481.55" y="1006.5" font-size="17.45" text-anchor="middle" fill="#1c1c1c">12'11 (3.93)</text>
<text x="1480.8" y="1026.8" font-size="17.45" text-anchor="middle" fill="#1c1c1c">x 7'7 (2.32)</text>
<text x="1868.2" y="784.75" font-size="17.45" font-weight="bold" text-anchor="middle" fill="#000">Garage</text>
<text x="1868.45" y="804.8" font-size="17.45" text-anchor="middle" fill="#1c1c1c">31'7 (6.92)</text>
<text x="1868.1" y="824.8" font-size="17.45" text-anchor="middle" fill="#1c1c1c">x 12'8 (3.85)</text>
</svg>
</body></html>
